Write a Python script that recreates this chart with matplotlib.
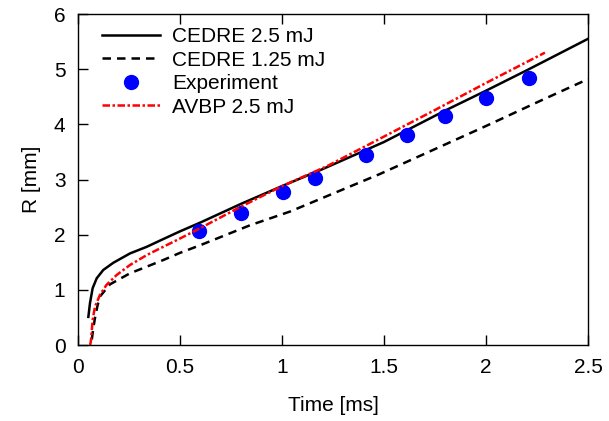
import matplotlib
matplotlib.use("Agg")
import matplotlib.pyplot as plt

plt.rcParams['font.family'] = ['Liberation Sans', 'DejaVu Sans']

# CEDRE 2.5 mJ
t_c25 = [0.051, 0.059, 0.072, 0.092, 0.124, 0.173, 0.255, 0.337, 0.418, 0.5, 0.6, 0.8, 1.0, 1.2, 1.5, 1.8, 2.0, 2.2, 2.5]
r_c25 = [0.51, 0.76, 1.03, 1.21, 1.36, 1.49, 1.66, 1.78, 1.92, 2.06, 2.22, 2.56, 2.88, 3.19, 3.68, 4.25, 4.61, 4.98, 5.55]

# CEDRE 1.25 mJ
t_c125 = [0.068, 0.075, 0.083, 0.095, 0.108, 0.157, 0.255, 0.337, 0.418, 0.5, 0.6, 0.843, 1.04, 1.48, 2.0, 2.28, 2.5]
r_c125 = [0.10, 0.30, 0.48, 0.70, 0.88, 1.10, 1.30, 1.42, 1.54, 1.67, 1.81, 2.17, 2.42, 3.10, 3.97, 4.45, 4.82]

# Experiment
t_exp = [0.595, 0.797, 1.006, 1.162, 1.41, 1.611, 1.80, 2.0, 2.211]
r_exp = [2.07, 2.40, 2.77, 3.03, 3.44, 3.81, 4.16, 4.48, 4.84]

# AVBP 2.5 mJ
t_avbp = [0.06, 0.064, 0.072, 0.083, 0.108, 0.14, 0.19, 0.255, 0.337, 0.418, 0.5, 0.6, 0.8, 1.0, 1.22, 1.48, 1.75, 2.0, 2.289]
r_avbp = [0.0, 0.09, 0.45, 0.69, 0.91, 1.09, 1.27, 1.45, 1.63, 1.78, 1.93, 2.12, 2.51, 2.88, 3.24, 3.74, 4.26, 4.75, 5.30]

fig = plt.figure(figsize=(6.09, 4.21), dpi=100)
ax = fig.add_axes([0.128, 0.1805, 0.8375, 0.7862])

ax.plot(t_c25, r_c25, color='black', lw=1.8, label='CEDRE 2.5 mJ')
ax.plot(t_c125, r_c125, color='black', lw=1.8, dashes=(3.4, 2.4), label='CEDRE 1.25 mJ')
ax.plot(t_exp, r_exp, 'o', color='#0000ff', ms=10, label='Experiment')
ax.plot(t_avbp, r_avbp, color='#ff0000', lw=1.8, dashes=(3, 1, 1, 1), label='AVBP 2.5 mJ')

ax.set_xlim(0, 2.5)
ax.set_ylim(0, 6)
ax.set_xticks([0, 0.5, 1, 1.5, 2, 2.5])
ax.set_xticklabels(['0', '0.5', '1', '1.5', '2', '2.5'])
ax.set_yticks([0, 1, 2, 3, 4, 5, 6])
ax.tick_params(direction='in', length=7, width=1, labelsize=15, top=True, right=False)
ax.tick_params(axis='x', pad=9)
ax.tick_params(axis='y', pad=9)
for s in ax.spines.values():
    s.set_linewidth(1)

ax.set_xlabel('Time [ms]', fontsize=15, labelpad=14)
ax.set_ylabel('R [mm]', fontsize=15, labelpad=9)

ax.legend(loc='upper left', bbox_to_anchor=(0.047, 0.961), frameon=False, fontsize=15,
          handlelength=2.8, handletextpad=0.58, labelspacing=0.22, borderaxespad=0, borderpad=0)

fig.savefig('out.png', dpi=100)
